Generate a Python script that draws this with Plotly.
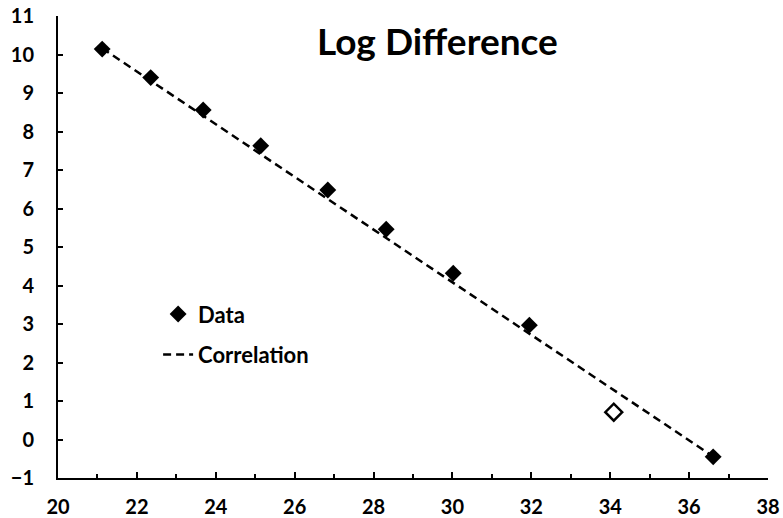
import plotly.graph_objects as go

# Data
data_x = [21.12, 22.35, 23.68, 25.14, 26.84, 28.32, 30.02, 31.95, 36.61]
data_y = [10.14, 9.40, 8.56, 7.63, 6.48, 5.46, 4.32, 2.97, -0.45]
outlier_x = [34.09]
outlier_y = [0.71]
corr_x = [21.12, 36.61]
corr_y = [10.16, -0.44]

x_ticks = [20, 22, 24, 26, 28, 30, 32, 34, 36, 38]
y_ticks = list(range(-1, 12))

FONT = "Lato"

fig = go.Figure()
fig.add_trace(go.Scatter(
    x=data_x, y=data_y, mode="markers", name="Data",
    legendgroup="a",
    marker=dict(symbol="diamond", size=13, color="black"),
))
fig.add_trace(go.Scatter(
    x=corr_x, y=corr_y, mode="lines", name="Correlation",
    legendgroup="b",
    line=dict(color="black", width=2.5, dash="8px,5px"),
))
fig.add_trace(go.Scatter(
    x=outlier_x, y=outlier_y, mode="markers", showlegend=False,
    marker=dict(symbol="diamond-open", size=13, color="black",
                line=dict(width=2.5, color="black")),
))

fig.update_layout(
    width=783, height=518,
    margin=dict(l=58, r=15, t=16, b=40, autoexpand=False),
    plot_bgcolor="white", paper_bgcolor="white",
    font=dict(family=FONT, color="black"),
    showlegend=True,
    legend=dict(x=0.141, y=0.40, xanchor="left", yanchor="top",
                bgcolor="rgba(0,0,0,0)",
                font=dict(family=FONT, size=22, color="black", weight="bold"),
                traceorder="grouped", tracegroupgap=9),
    annotations=[dict(
        text="<b>Log Difference</b>", xref="paper", yref="paper",
        x=0.534, y=0.948, xanchor="center", yanchor="middle",
        showarrow=False, font=dict(family=FONT, size=37, color="black"),
    )],
)
fig.update_xaxes(
    range=[20, 38], tickmode="array", tickvals=x_ticks,
    ticks="inside", ticklen=6, tickwidth=2, tickcolor="black",
    minor=dict(dtick=1, tick0=20, ticks="inside", ticklen=4, tickwidth=2, tickcolor="black"),
    showline=True, linewidth=2, linecolor="black",
    showgrid=False, zeroline=False, automargin=False,
    ticklabelstandoff=10, ticklabeloverflow="allow",
    tickfont=dict(family=FONT, size=20, color="black", weight="bold"),
)
fig.update_yaxes(
    range=[-1, 11], tickmode="array", tickvals=y_ticks,
    ticks="inside", ticklen=5, tickwidth=2, tickcolor="black",
    showline=True, linewidth=2, linecolor="black",
    showgrid=False, zeroline=False, automargin=False,
    ticklabelstandoff=18, ticklabeloverflow="allow",
    tickfont=dict(family=FONT, size=20, color="black", weight="bold"),
)

fig.write_html("out.html", config={"displayModeBar": False},
               post_script="document.body.style.margin='0';")
